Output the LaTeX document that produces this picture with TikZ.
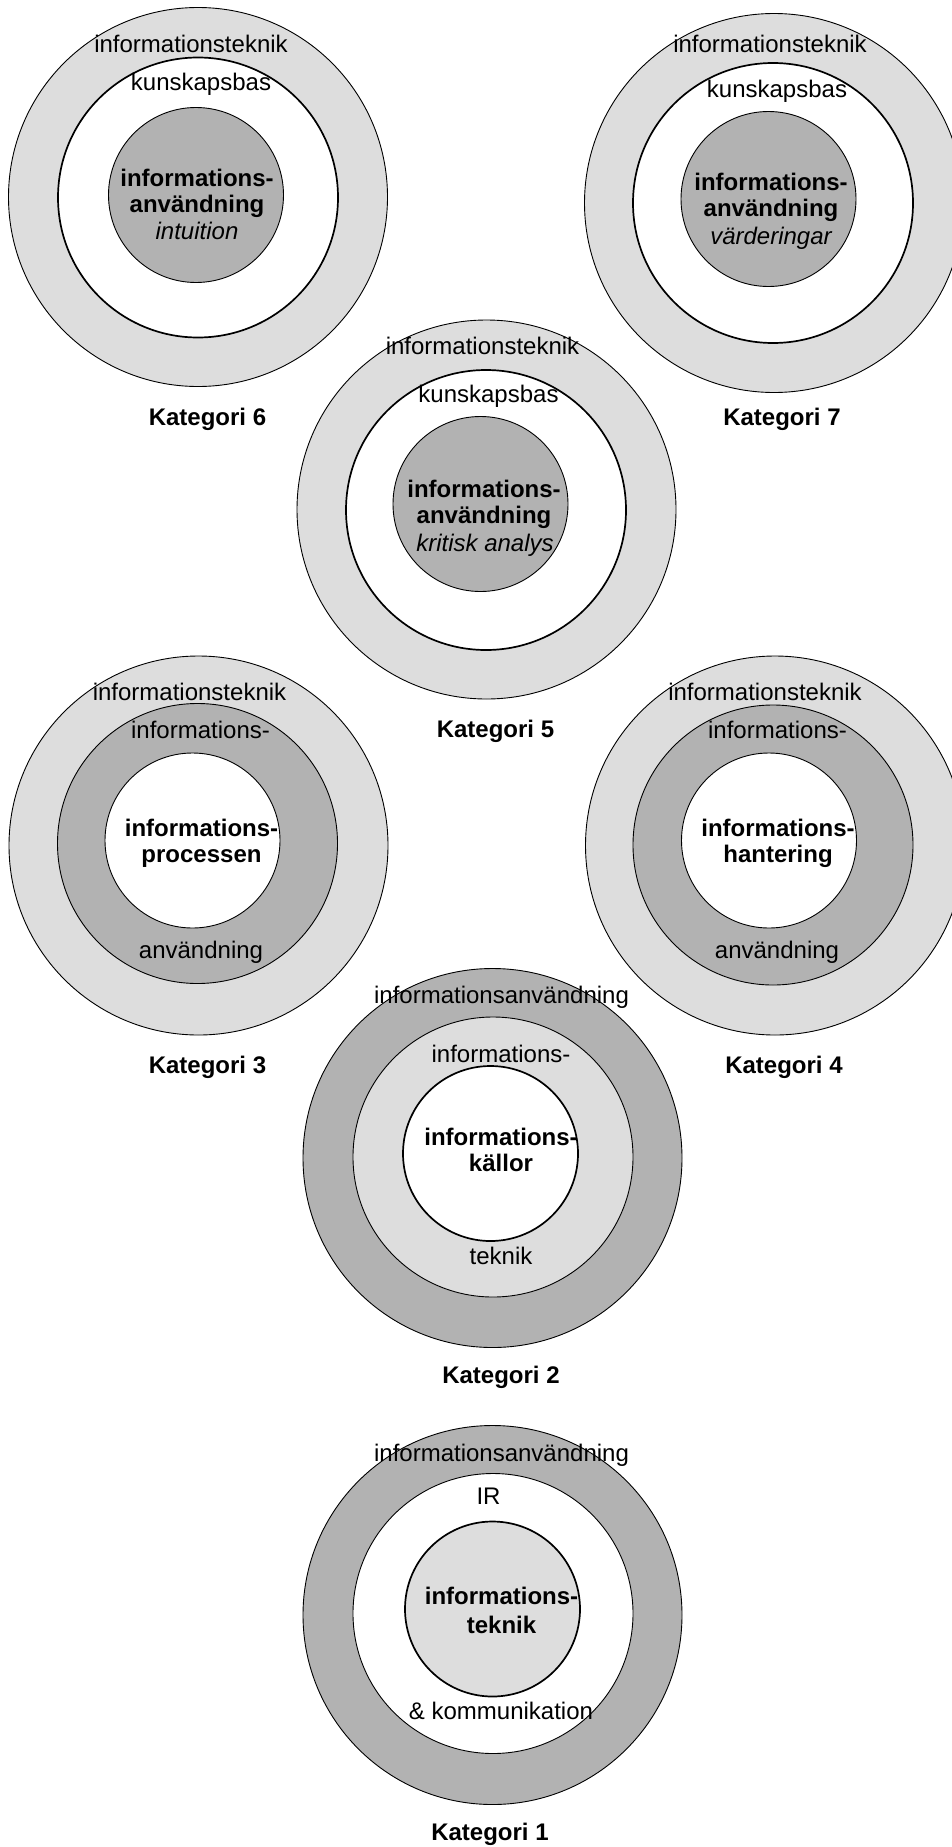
\documentclass[tikz,border=0pt]{standalone}
\usepackage{fontspec}
\setmainfont{Liberation Sans}
\definecolor{lightg}{RGB}{221,221,221}
\definecolor{darkg}{RGB}{178,178,178}
\tikzset{
  ring/.style={circle, draw=black, inner sep=0pt, line width=0.9pt},
  thick ring/.style={ring, line width=1.7pt},
  outerd/.style={minimum size=379pt},
  midd/.style={minimum size=280pt},
  innd/.style={minimum size=175pt},
  lbl/.style={font=\fontsize{24}{27}\selectfont, inner sep=0pt, anchor=base},
  blbl/.style={font=\fontsize{24}{27}\selectfont\bfseries, inner sep=0pt, anchor=base},
  ilbl/.style={font=\fontsize{24}{27}\selectfont\itshape, inner sep=0pt, anchor=base},
}
\begin{document}
\begin{tikzpicture}[x=1pt,y=-1pt]
\useasboundingbox (0,0) rectangle (952,1847);
\fill[white] (0,0) rectangle (952,1847);

% Kategori 6
\node[ring, outerd, fill=lightg] (c6o) at (198,197) {};
\node[thick ring, midd, fill=white] (c6m) at (198,197.5) {};
\node[ring, innd, fill=darkg] (c6i) at (196,195) {};
\node[lbl] (t6a) at (191,52) {informationsteknik};
\node[lbl] (t6b) at (201,90.5) {kunskapsbas};
\node[blbl] (t6c) at (197,186) {informations-};
\node[blbl] (t6d) at (197,212.5) {användning};
\node[ilbl] (t6e) at (197,239) {intuition};
\node[blbl] (k6) at (207.5,425) {Kategori 6};

% Kategori 7
\node[ring, outerd, fill=lightg] (c7o) at (774,203) {};
\node[thick ring, midd, fill=white] (c7m) at (773,203) {};
\node[ring, innd, fill=darkg] (c7i) at (768.5,199) {};
\node[lbl] (t7a) at (770,52) {informationsteknik};
\node[lbl] (t7b) at (777,97) {kunskapsbas};
\node[blbl] (t7c) at (771,190) {informations-};
\node[blbl] (t7d) at (771,216.5) {användning};
\node[ilbl] (t7e) at (771,244) {värderingar};
\node[blbl] (k7) at (782,425) {Kategori 7};

% Kategori 5
\node[ring, outerd, fill=lightg] (c5o) at (486.5,509.5) {};
\node[thick ring, midd, fill=white] (c5m) at (486,510) {};
\node[ring, innd, fill=darkg] (c5i) at (480.5,504) {};
\node[lbl] (t5a) at (482.5,354) {informationsteknik};
\node[lbl] (t5b) at (488.5,402) {kunskapsbas};
\node[blbl] (t5c) at (484,497) {informations-};
\node[blbl] (t5d) at (484,523) {användning};
\node[ilbl] (t5e) at (485,551) {kritisk analys};
\node[blbl] (k5) at (495.5,737) {Kategori 5};

% Kategori 3
\node[ring, outerd, fill=lightg] (c3o) at (198.5,845.5) {};
\node[ring, midd, fill=darkg] (c3m) at (197.5,843.5) {};
\node[ring, innd, fill=white] (c3i) at (192.5,840.5) {};
\node[lbl] (t3a) at (189.5,700.5) {informationsteknik};
\node[lbl] (t3b) at (200.5,738) {informations-};
\node[blbl] (t3c) at (201.5,836.5) {informations-};
\node[blbl] (t3d) at (201.5,862.5) {processen};
\node[lbl] (t3e) at (201,958) {användning};
\node[blbl] (k3) at (207.5,1073) {Kategori 3};

% Kategori 4
\node[ring, outerd, fill=lightg] (c4o) at (775,845.5) {};
\node[ring, midd, fill=darkg] (c4m) at (773,845) {};
\node[ring, innd, fill=white] (c4i) at (769,840.5) {};
\node[lbl] (t4a) at (765,700.5) {informationsteknik};
\node[lbl] (t4b) at (777.5,738) {informations-};
\node[blbl] (t4c) at (778,836.5) {informations-};
\node[blbl] (t4d) at (778,862.5) {hantering};
\node[lbl] (t4e) at (777,958) {användning};
\node[blbl] (k4) at (784,1073) {Kategori 4};

% Kategori 2
\node[ring, outerd, fill=darkg] (c2o) at (492.5,1158) {};
\node[ring, midd, fill=lightg] (c2m) at (493,1157) {};
\node[thick ring, innd, fill=white] (c2i) at (490.5,1153.5) {};
\node[lbl] (t2a) at (501.5,1003) {informationsanvändning};
\node[lbl] (t2b) at (501,1062) {informations-};
\node[blbl] (t2c) at (501,1145) {informations-};
\node[blbl] (t2d) at (501,1171.5) {källor};
\node[lbl] (t2e) at (501,1264) {teknik};
\node[blbl] (k2) at (501,1383) {Kategori 2};

% Kategori 1
\node[ring, outerd, fill=darkg] (c1o) at (492.5,1615) {};
\node[ring, midd, fill=white] (c1m) at (493,1613.5) {};
\node[thick ring, innd, fill=lightg] (c1i) at (492.5,1609) {};
\node[lbl] (t1a) at (501.5,1461.5) {informationsanvändning};
\node[lbl] (t1b) at (488.5,1504) {IR};
\node[blbl] (t1c) at (501.5,1604) {informations-};
\node[blbl] (t1d) at (501.5,1633) {teknik};
\node[lbl] (t1e) at (501,1719) {\& kommunikation};
\node[blbl] (k1) at (490,1840) {Kategori 1};
\end{tikzpicture}
\end{document}
